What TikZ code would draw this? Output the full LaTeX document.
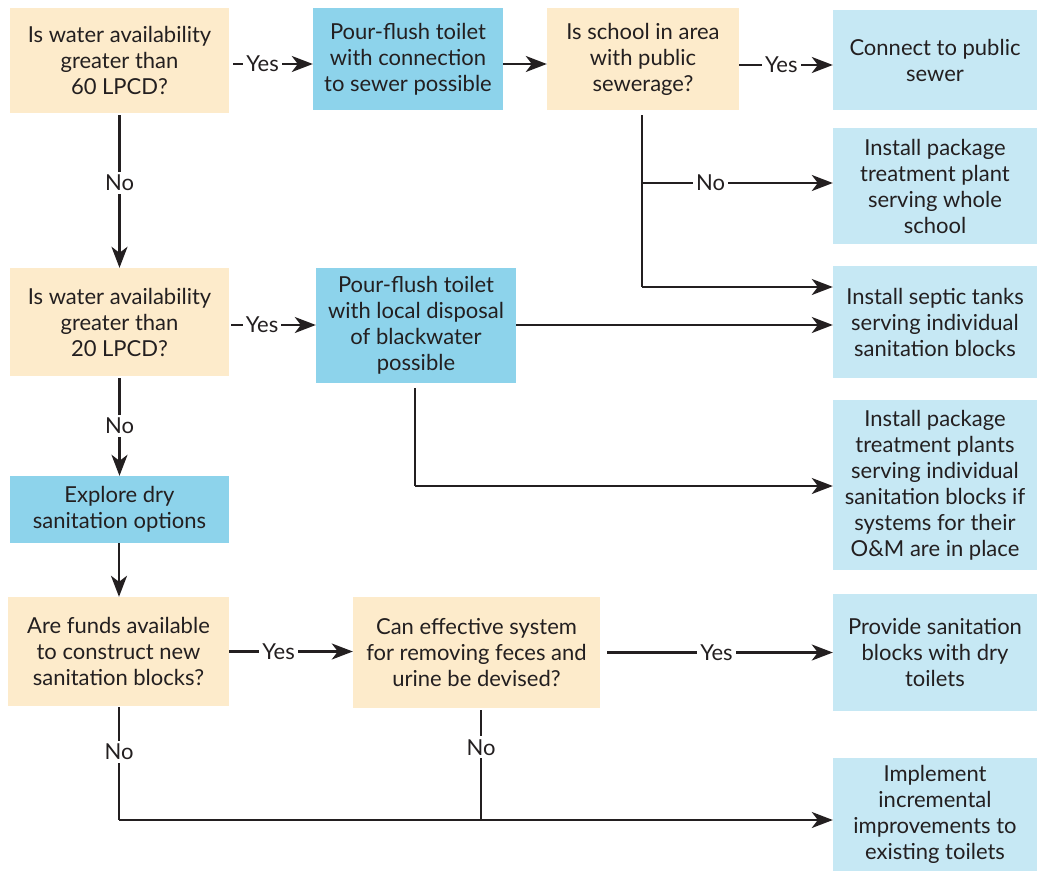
\documentclass[tikz,border=0pt]{standalone}
\usepackage{fontspec}
\setmainfont{Lato}
\usetikzlibrary{arrows.meta}
\definecolor{peach}{HTML}{FDEBCB}
\definecolor{midblue}{HTML}{8DD3EB}
\definecolor{lightblue}{HTML}{C6E8F4}
\definecolor{ink}{HTML}{231F20}
\tikzset{
  box/.style={inner sep=1pt, align=center, text=ink,
    font=\fontsize{22}{26}\selectfont},
  qbox/.style={box, fill=peach},
  mbox/.style={box, fill=midblue},
  rbox/.style={box, fill=lightblue, minimum width=204pt},
  arr/.style={draw=ink, line width=2.3pt, -{Stealth[length=21pt,width=16pt,inset=6pt]}},
  ln/.style={draw=ink, line width=2.3pt},
  lab/.style={fill=white, text=ink, inner sep=3pt, font=\fontsize{22}{26}\selectfont},
}
\begin{document}
\begin{tikzpicture}[x=1pt,y=-1pt]
\useasboundingbox (0,0) rectangle (1037,871);
% decisions
\node[qbox, minimum width=219pt, minimum height=105pt] (Q1) at (119.5,60.5) {Is water availability\\greater than\\60 LPCD?};
\node[mbox, minimum width=190pt, minimum height=102pt] (B1) at (408,59) {Pour-flush toilet\\with connection\\to sewer possible};
\node[qbox, minimum width=192pt, minimum height=102pt] (Q2) at (643,59) {Is school in area\\with public\\sewerage?};
\node[qbox, minimum width=219pt, minimum height=108pt] (Q3) at (119.5,322) {Is water availability\\greater than\\20 LPCD?};
\node[mbox, minimum width=200pt, minimum height=115pt] (B2) at (416,325.5) {Pour-flush toilet\\with local disposal\\of blackwater\\possible};
\node[mbox, minimum width=219pt, minimum height=67pt] (B3) at (119.5,509.5) {Explore dry\\sanitation options};
\node[qbox, minimum width=221pt, minimum height=109pt] (Q4) at (118.5,651.5) {Are funds available\\to construct new\\sanitation blocks?};
\node[qbox, minimum width=247pt, minimum height=111pt] (Q5) at (476.5,652.5) {Can effective system\\for removing feces and\\urine be devised?};
% results
\node[rbox, minimum height=100pt] (R1) at (935,60) {Connect to public\\sewer};
\node[rbox, minimum height=116pt] (R2) at (935,186) {Install package\\treatment plant\\serving whole\\school};
\node[rbox, minimum height=112pt] (R3) at (935,322) {Install septic tanks\\serving individual\\sanitation blocks};
\node[rbox, minimum height=170pt] (R4) at (935,485) {Install package\\treatment plants\\serving individual\\sanitation blocks if\\systems for their\\O\&M are in place};
\node[rbox, minimum height=117pt] (R5) at (935,652.5) {Provide sanitation\\blocks with dry\\toilets};
\node[rbox, minimum height=113pt] (R6) at (935,814.5) {Implement\\incremental\\improvements to\\existing toilets};
% junction coordinates
\coordinate (j1) at (642,287);
\coordinate (j2) at (642,183);
\coordinate (j3) at (119,820);
\coordinate (j4) at (415,486);
\coordinate (y1) at (0,64);
\coordinate (y2) at (0,65);
\coordinate (y3) at (0,325);
% top row
\draw[arr, shorten <=4pt] (Q1.east |- y1) -- node[lab, pos=0.4]{Yes} (B1.west |- y1);
\draw[arr] (B1.east |- y1) -- (Q2.west |- y1);
\draw[arr] (Q2.east |- y2) -- node[lab, pos=0.45]{Yes} (R1.west |- y2);
\draw[ln, shorten <=5pt] (Q2.south -| j1) -- (j1);
\draw[arr] (j1) -- (j1 -| R3.west);
\draw[arr] (j2) -- node[lab, pos=0.36]{No} (j2 -| R2.west);
% left column
\draw[arr, shorten <=2pt] (Q1.south) -- node[lab, pos=0.45]{No} (Q3.north);
\draw[arr, shorten <=2pt] (Q3.east |- y3) -- node[lab, pos=0.38]{Yes} (B2.west |- y3);
\draw[arr] (B2.east |- y3) -- (R3.west |- y3);
\draw[ln, shorten <=5pt] (B2.south -| j4) -- (j4);
\draw[arr] (j4) -- (j4 -| R4.west);
\draw[arr, shorten <=2pt] (Q3.south) -- node[lab, pos=0.5]{No} (Q3.south |- B3.north);
\draw[arr] (B3.south -| j3) -- (j3 |- Q4.north);
% bottom
\draw[arr] (Q4.east) -- node[lab, pos=0.4]{Yes} (Q4.east -| Q5.west);
\draw[arr, shorten <=7pt] (Q5.east) -- node[lab, pos=0.5]{Yes} (Q5.east -| R5.west);
\draw[ln, shorten <=1pt] (Q4.south -| j3) -- node[lab, pos=0.4]{No} (j3);
\draw[ln, shorten <=2pt] (Q5.south -| 481,0) -- node[lab, pos=0.35]{No} (481,820);
\draw[arr] (j3) -- (j3 -| R6.west);
\end{tikzpicture}
\end{document}
